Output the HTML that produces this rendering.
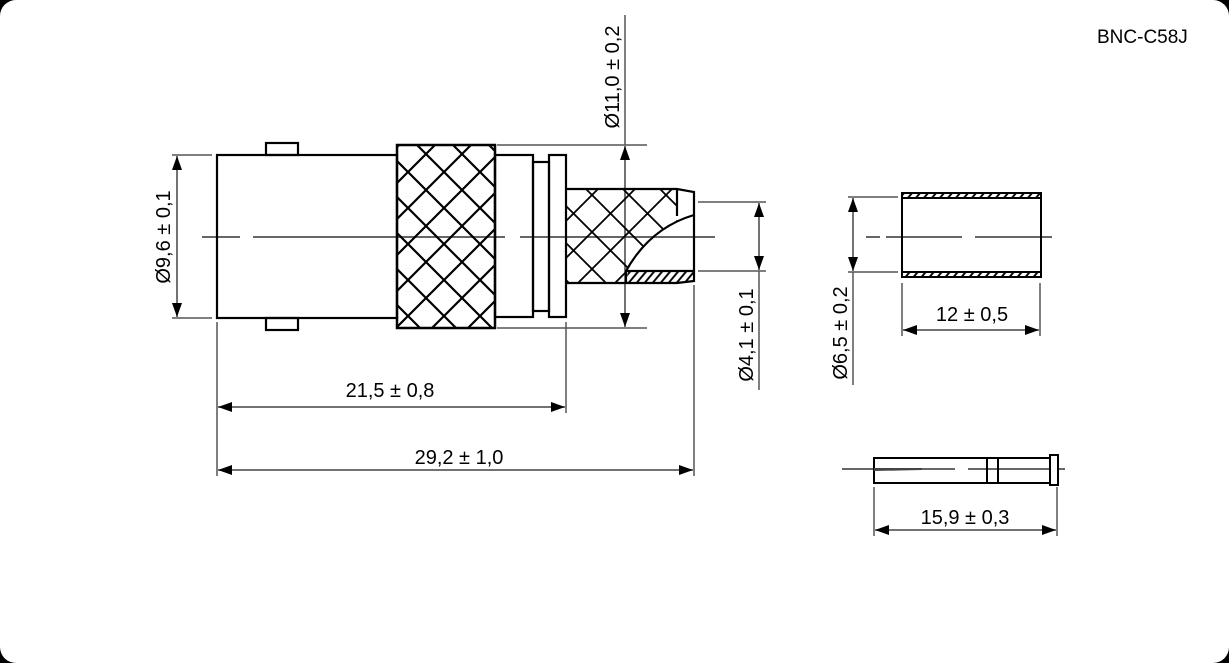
<!DOCTYPE html>
<html><head><meta charset="utf-8"><style>
html,body{margin:0;padding:0;background:#000;}
.w{position:absolute;left:0;top:0;width:1229px;height:663px;background:#fff;border-radius:16px;overflow:hidden}
svg{position:absolute;left:0;top:0}
text{font-family:"Liberation Sans",Arial,sans-serif;font-size:20px;fill:#000}
</style></head><body><div class="w">
<svg width="1229" height="663" viewBox="0 0 1229 663">
<defs>
<pattern id="kn" patternUnits="userSpaceOnUse" width="36" height="36" x="12" y="28">
<path d="M-2 -2L38 38M38 -2L-2 38" stroke="#000" stroke-width="2.2"/>
</pattern>
<pattern id="kn2" patternUnits="userSpaceOnUse" width="37" height="37" x="0" y="10">
<path d="M-2 -2L39 39M39 -2L-2 39" stroke="#000" stroke-width="1.8"/>
</pattern>
<pattern id="hs" patternUnits="userSpaceOnUse" width="8" height="12" patternTransform="skewX(-40)">
<line x1="2" y1="0" x2="2" y2="12" stroke="#000" stroke-width="2.5"/>
</pattern>
<marker id="a" markerWidth="14" markerHeight="10" refX="14" refY="5" orient="auto" markerUnits="userSpaceOnUse">
<path d="M0 0L14 5L0 10Z" fill="#000"/></marker>
<marker id="b" markerWidth="14" markerHeight="10" refX="0" refY="5" orient="auto" markerUnits="userSpaceOnUse">
<path d="M14 0L0 5L14 10Z" fill="#000"/></marker>
</defs>

<g stroke="#666" stroke-width="2" fill="none">
<line x1="202" y1="237" x2="240" y2="237"/>
<line x1="253" y1="237" x2="505" y2="237"/>
<line x1="520" y1="237" x2="715" y2="237"/>
<line x1="866" y1="237" x2="880" y2="237"/>
<line x1="886" y1="237" x2="962" y2="237"/>
<line x1="975" y1="237" x2="1052" y2="237"/>
<line x1="842" y1="469" x2="955" y2="469"/>
<line x1="968" y1="469" x2="1065" y2="469"/>
</g>

<g stroke="#555" stroke-width="1.5" fill="none">
<line x1="172" y1="155" x2="212" y2="155"/>
<line x1="172" y1="318" x2="212" y2="318"/>
<line x1="497" y1="145" x2="647" y2="145"/>
<line x1="497" y1="328" x2="647" y2="328"/>
<line x1="698" y1="202" x2="766" y2="202"/>
<line x1="698" y1="271" x2="766" y2="271"/>
<line x1="217" y1="322" x2="217" y2="476"/>
<line x1="566" y1="322" x2="566" y2="413"/>
<line x1="694" y1="285" x2="694" y2="476"/>
<line x1="848" y1="197" x2="898" y2="197"/>
<line x1="848" y1="272" x2="898" y2="272"/>
<line x1="902" y1="283" x2="902" y2="336"/>
<line x1="1040" y1="283" x2="1040" y2="336"/>
<line x1="874" y1="487" x2="874" y2="536"/>
<line x1="1057" y1="487" x2="1057" y2="536"/>
<line x1="625" y1="15" x2="625" y2="145"/>
<line x1="759" y1="271" x2="759" y2="390"/>
<line x1="853" y1="272" x2="853" y2="385"/>
</g>

<g stroke="#444" stroke-width="1.5" fill="none">
<line x1="177" y1="156" x2="177" y2="317" marker-start="url(#b)" marker-end="url(#a)"/>
<line x1="625" y1="146" x2="625" y2="327" marker-start="url(#b)" marker-end="url(#a)"/>
<line x1="759" y1="203" x2="759" y2="270" marker-start="url(#b)" marker-end="url(#a)"/>
<line x1="853" y1="198" x2="853" y2="271" marker-start="url(#b)" marker-end="url(#a)"/>
<line x1="218" y1="407" x2="565" y2="407" marker-start="url(#b)" marker-end="url(#a)"/>
<line x1="218" y1="470" x2="693" y2="470" marker-start="url(#b)" marker-end="url(#a)"/>
<line x1="903" y1="330" x2="1039" y2="330" marker-start="url(#b)" marker-end="url(#a)"/>
<line x1="875" y1="530" x2="1056" y2="530" marker-start="url(#b)" marker-end="url(#a)"/>
</g>

<g stroke="#000" stroke-width="2.2" fill="#fff">
<rect x="266" y="143" width="32" height="12"/>
<rect x="266" y="318" width="32" height="12"/>
<rect x="217" y="155" width="180" height="163" fill="none"/>
<rect x="495" y="155" width="38" height="162" fill="none"/>
<rect x="533" y="162" width="16" height="149" fill="none"/>
<rect x="549" y="155" width="17" height="162" fill="none"/>
</g>
<rect x="397" y="145" width="98" height="183" fill="url(#kn)" stroke="#000" stroke-width="2.5"/>

<path d="M566 189 L677 189 L677 222 Q648 236 626 271 L626 283 L566 283 Z" fill="url(#kn2)" stroke="none"/>
<path d="M628 271 L694 271 L694 281 L677 283 L626 283 Z" fill="url(#hs)" stroke="none"/>
<g stroke="#000" stroke-width="2.2" fill="none">
<path d="M566 189 L677 189 L694 192 L694 281 L677 283 L566 283"/>
<line x1="677" y1="189" x2="677" y2="216"/>
<path d="M694 215 Q650 228 626 271 L626 283"/>
<line x1="626" y1="271" x2="694" y2="271"/>
</g>

<rect x="902" y="193" width="139" height="5" fill="url(#hs)"/>
<rect x="902" y="272" width="139" height="5" fill="url(#hs)"/>
<g stroke="#000" stroke-width="2" fill="none">
<rect x="902" y="193" width="139" height="84"/>
<line x1="902" y1="198" x2="1041" y2="198"/>
<line x1="902" y1="272" x2="1041" y2="272"/>
</g>

<g stroke="#000" stroke-width="2" fill="#fff">
<rect x="874" y="458" width="113" height="25" fill="none"/>
<rect x="987" y="458" width="11" height="25" fill="none"/>
<rect x="998" y="458" width="52" height="25" fill="none"/>
<rect x="1050" y="455" width="8" height="30"/>
</g>
<path d="M874 468 L922 468 L922 470 L874 471Z" fill="#444"/>

<text x="1097" y="43" style="font-size:19px">BNC-C58J</text>
<text x="390" y="397" text-anchor="middle">21,5 ± 0,8</text>
<text x="459" y="464" text-anchor="middle">29,2 ± 1,0</text>
<text x="972" y="321" text-anchor="middle">12 ± 0,5</text>
<text x="965" y="524" text-anchor="middle">15,9 ± 0,3</text>
<text transform="translate(170,237) rotate(-90)" text-anchor="middle">Ø9,6 ± 0,1</text>
<text transform="translate(619,77) rotate(-90)" text-anchor="middle">Ø11,0 ± 0,2</text>
<text transform="translate(753,335) rotate(-90)" text-anchor="middle">Ø4,1 ± 0,1</text>
<text transform="translate(847,333) rotate(-90)" text-anchor="middle">Ø6,5 ± 0,2</text>
</svg></div></body></html>
